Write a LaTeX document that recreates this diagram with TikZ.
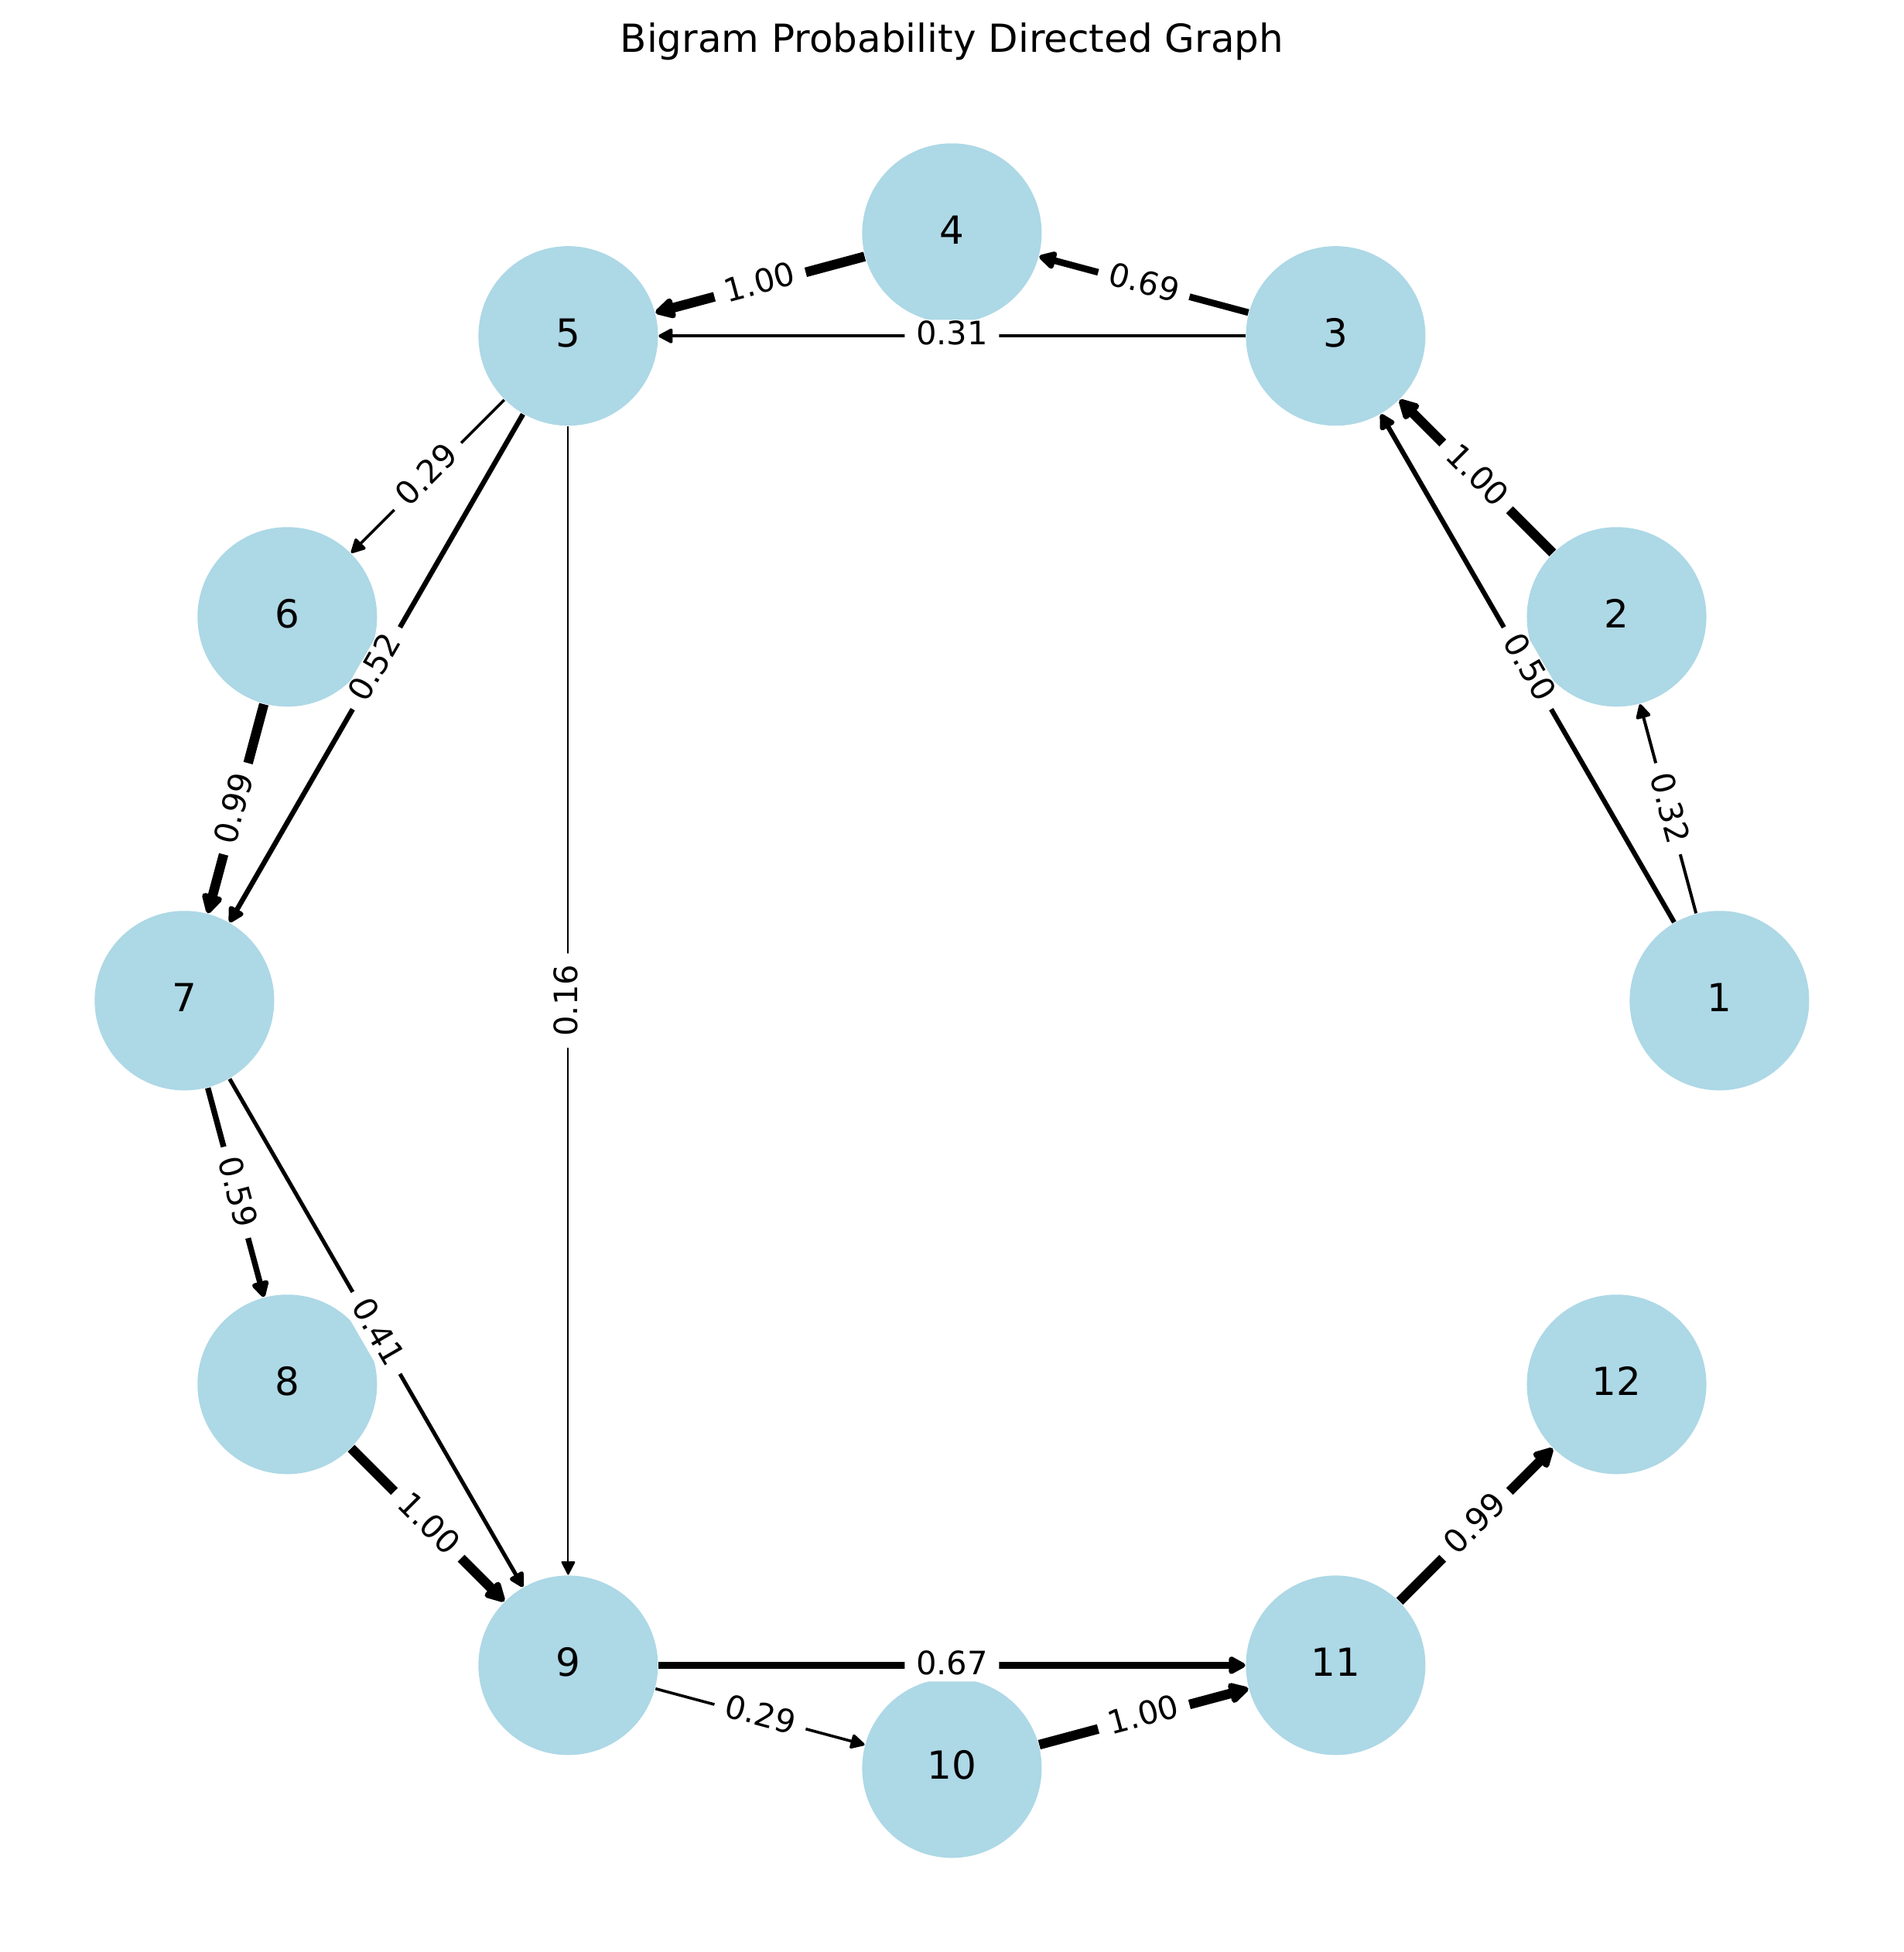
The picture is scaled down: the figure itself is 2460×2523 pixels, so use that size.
\documentclass[tikz,border=0pt]{standalone}
\usepackage{fontspec}
\setmainfont{DejaVu Sans}
\usetikzlibrary{arrows.meta}
\definecolor{nodeblue}{HTML}{ADD8E6}
\pgfdeclarelayer{edgelayer}
\pgfsetlayers{edgelayer,main}
\begin{document}
\begin{tikzpicture}[x=0.24pt,y=-0.24pt,
  vtx/.style={circle, fill=nodeblue, minimum size=55.7pt, inner sep=0pt,
    font=\fontsize{12}{14}\selectfont, text depth=2pt},
  wedge/.style={line width=#1*3pt, -{Triangle[length=4pt 1, width=4pt 1, round]}},
  lbl/.style={fill=white, rounded corners=2pt, inner xsep=3.5pt, inner ysep=0.4pt,
    font=\fontsize{10}{12}\selectfont, sloped, midway, text height=7.4pt, text depth=1.8pt},
  titlestyle/.style={font=\fontsize{12}{14}\selectfont, anchor=base}
]
\useasboundingbox (0,0) rectangle (2460,2523);
\node[titlestyle] (title) at (1230.4,68) {Bigram Probability Directed Graph};

\node[vtx] (n1)  at (2222.4,1293.3) {1};
\node[vtx] (n2)  at (2089.5,797.3) {2};
\node[vtx] (n3)  at (1726.4,434.2) {3};
\node[vtx] (n4)  at (1230.4,301.3) {4};
\node[vtx] (n5)  at (734.4,434.2) {5};
\node[vtx] (n6)  at (371.3,797.3) {6};
\node[vtx] (n7)  at (238.4,1293.3) {7};
\node[vtx] (n8)  at (371.3,1789.3) {8};
\node[vtx] (n9)  at (734.4,2152.4) {9};
\node[vtx] (n10) at (1230.4,2285.3) {10};
\node[vtx] (n11) at (1726.4,2152.4) {11};
\node[vtx] (n12) at (2089.5,1789.3) {12};

\begin{pgfonlayer}{edgelayer}
\draw[wedge=0.32] (n1) -- (n2);
\draw[wedge=0.50] (n1) -- (n3);
\draw[wedge=1.00] (n2) -- (n3);
\draw[wedge=0.69] (n3) -- (n4);
\draw[wedge=0.31] (n3) -- (n5);
\draw[wedge=1.00] (n4) -- (n5);
\draw[wedge=0.29] (n5) -- (n6);
\draw[wedge=0.52] (n5) -- (n7);
\draw[wedge=0.16] (n5) -- (n9);
\draw[wedge=0.99] (n6) -- (n7);
\draw[wedge=0.59] (n7) -- (n8);
\draw[wedge=0.41] (n7) -- (n9);
\draw[wedge=1.00] (n8) -- (n9);
\draw[wedge=0.29] (n9) -- (n10);
\draw[wedge=0.67] (n9) -- (n11);
\draw[wedge=1.00] (n10) -- (n11);
\draw[wedge=0.99] (n11) -- (n12);
\end{pgfonlayer}

\path (n1) -- node[lbl] (l12) {0.32} (n2);
\path (n1) -- node[lbl] (l13) {0.50} (n3);
\path (n2) -- node[lbl] (l23) {1.00} (n3);
\path (n3) -- node[lbl] (l34) {0.69} (n4);
\path (n3) -- node[lbl] (l35) {0.31} (n5);
\path (n4) -- node[lbl] (l45) {1.00} (n5);
\path (n5) -- node[lbl] (l56) {0.29} (n6);
\path (n5) -- node[lbl] (l57) {0.52} (n7);
\path (n9) -- node[lbl] (l59) {0.16} (n5);
\path (n6) -- node[lbl] (l67) {0.99} (n7);
\path (n7) -- node[lbl] (l78) {0.59} (n8);
\path (n7) -- node[lbl] (l79) {0.41} (n9);
\path (n8) -- node[lbl] (l89) {1.00} (n9);
\path (n9) -- node[lbl] (l910) {0.29} (n10);
\path (n9) -- node[lbl] (l911) {0.67} (n11);
\path (n10) -- node[lbl] (l1011) {1.00} (n11);
\path (n11) -- node[lbl] (l1112) {0.99} (n12);
\end{tikzpicture}
\end{document}
